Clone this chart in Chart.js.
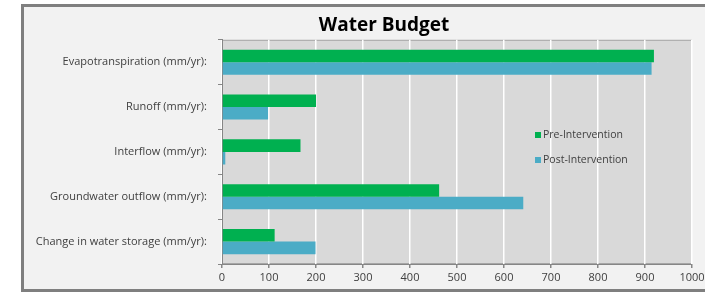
<!DOCTYPE html>
<html>
<head>
<meta charset="utf-8">
<script src="https://cdn.jsdelivr.net/npm/chart.js@4/dist/chart.umd.min.js"></script>
<style>
  html, body { margin: 0; padding: 0; background: #fff; overflow: hidden; }
  #frame {
    position: absolute; left: 21px; top: 4px;
    width: 720px; height: 282px;
    border: 3px solid #7f7f7f;
    background: #f2f2f2;
  }
  #frame canvas { display: block; }
</style>
</head>
<body>
<div id="frame"><canvas id="chart" width="720" height="282"></canvas></div>
<script>
const categories = [
  'Evapotranspiration (mm/yr):',
  'Runoff (mm/yr):',
  'Interflow (mm/yr):',
  'Groundwater outflow (mm/yr):',
  'Change in water storage (mm/yr):'
];
const preIntervention = [919, 200, 167, 462, 112];
const postIntervention = [914, 98, 7, 641, 199];
const seriesNames = ['Pre-Intervention', 'Post-Intervention'];
const xTicks = [0, 100, 200, 300, 400, 500, 600, 700, 800, 900, 1000];

const GREEN = '#00b050';
const BLUE = '#4bacc6';

// grey plot area with a thin frame, drawn under the grid
const plotBackground = {
  id: 'plotBackground',
  beforeDraw(chart) {
    const { ctx, chartArea: a } = chart;
    ctx.save();
    ctx.fillStyle = '#d9d9d9';
    ctx.fillRect(a.left, a.top, a.right - a.left, a.bottom - a.top);
    ctx.strokeStyle = '#a6a6a6';
    ctx.lineWidth = 1;
    ctx.strokeRect(a.left + 0.5, a.top + 0.5, a.right - a.left - 1, a.bottom - a.top - 1);
    ctx.restore();
  }
};

// title is centred over the whole canvas, not the padded box
const titleSpan = {
  id: 'titleSpan',
  afterLayout(chart) {
    const t = chart.titleBlock;
    if (t) {
      t.left = 0;
      t.right = chart.width;
      t.width = chart.width;
    }
  }
};

// legend sits inside the plot, right of the bars
const insideLegend = {
  id: 'insideLegend',
  afterDraw(chart, args, opts) {
    const { ctx } = chart;
    ctx.save();
    ctx.font = '10.5px "Open Sans"';
    ctx.textBaseline = 'middle';
    chart.data.datasets.forEach((ds, i) => {
      const y = opts.y + i * opts.gap;
      ctx.fillStyle = ds.backgroundColor;
      ctx.fillRect(opts.x, y - 3, 6, 6);
      ctx.fillStyle = '#404040';
      ctx.fillText(ds.label, opts.x + 8, y);
    });
    ctx.restore();
  }
};

new Chart(document.getElementById('chart'), {
  type: 'bar',
  data: {
    labels: categories,
    datasets: [
      { label: seriesNames[0], data: preIntervention, backgroundColor: GREEN },
      { label: seriesNames[1], data: postIntervention, backgroundColor: BLUE }
    ]
  },
  options: {
    indexAxis: 'y',
    responsive: false,
    animation: false,
    categoryPercentage: 0.56,
    barPercentage: 1,
    layout: { padding: { left: 0, right: 52, top: 0, bottom: 0 } },
    plugins: {
      legend: { display: false },
      tooltip: { enabled: false },
      title: {
        display: true,
        text: 'Water Budget',
        color: '#000',
        font: { family: 'Open Sans', size: 19, weight: 'bold' },
        padding: { top: 7, bottom: 3 }
      },
      insideLegend: { x: 511, y: 128, gap: 25 }
    },
    scales: {
      x: {
        min: 0,
        max: 1000,
        afterBuildTicks(scale) {
          scale.ticks = xTicks.map(v => ({ value: v }));
        },
        afterFit(scale) { scale.height = 25; },
        grid: {
          color: '#ffffff',
          lineWidth: 1.5,
          tickColor: '#868686',
          tickLength: 4,
          drawOnChartArea: true
        },
        border: { display: true, color: '#868686', width: 1 },
        ticks: {
          color: '#404040',
          padding: 3,
          maxRotation: 0,
          font: { family: 'Open Sans', size: 11 },
          callback: v => String(v)
        }
      },
      y: {
        afterFit(scale) { scale.width = 198; },
        grid: {
          drawOnChartArea: false,
          tickColor: '#868686',
          tickLength: 4
        },
        border: { display: true, color: '#868686', width: 1 },
        ticks: {
          color: '#404040',
          padding: 11,
          font: { family: 'Open Sans', size: 11 }
        }
      }
    }
  },
  plugins: [plotBackground, titleSpan, insideLegend]
});
</script>
</body>
</html>
